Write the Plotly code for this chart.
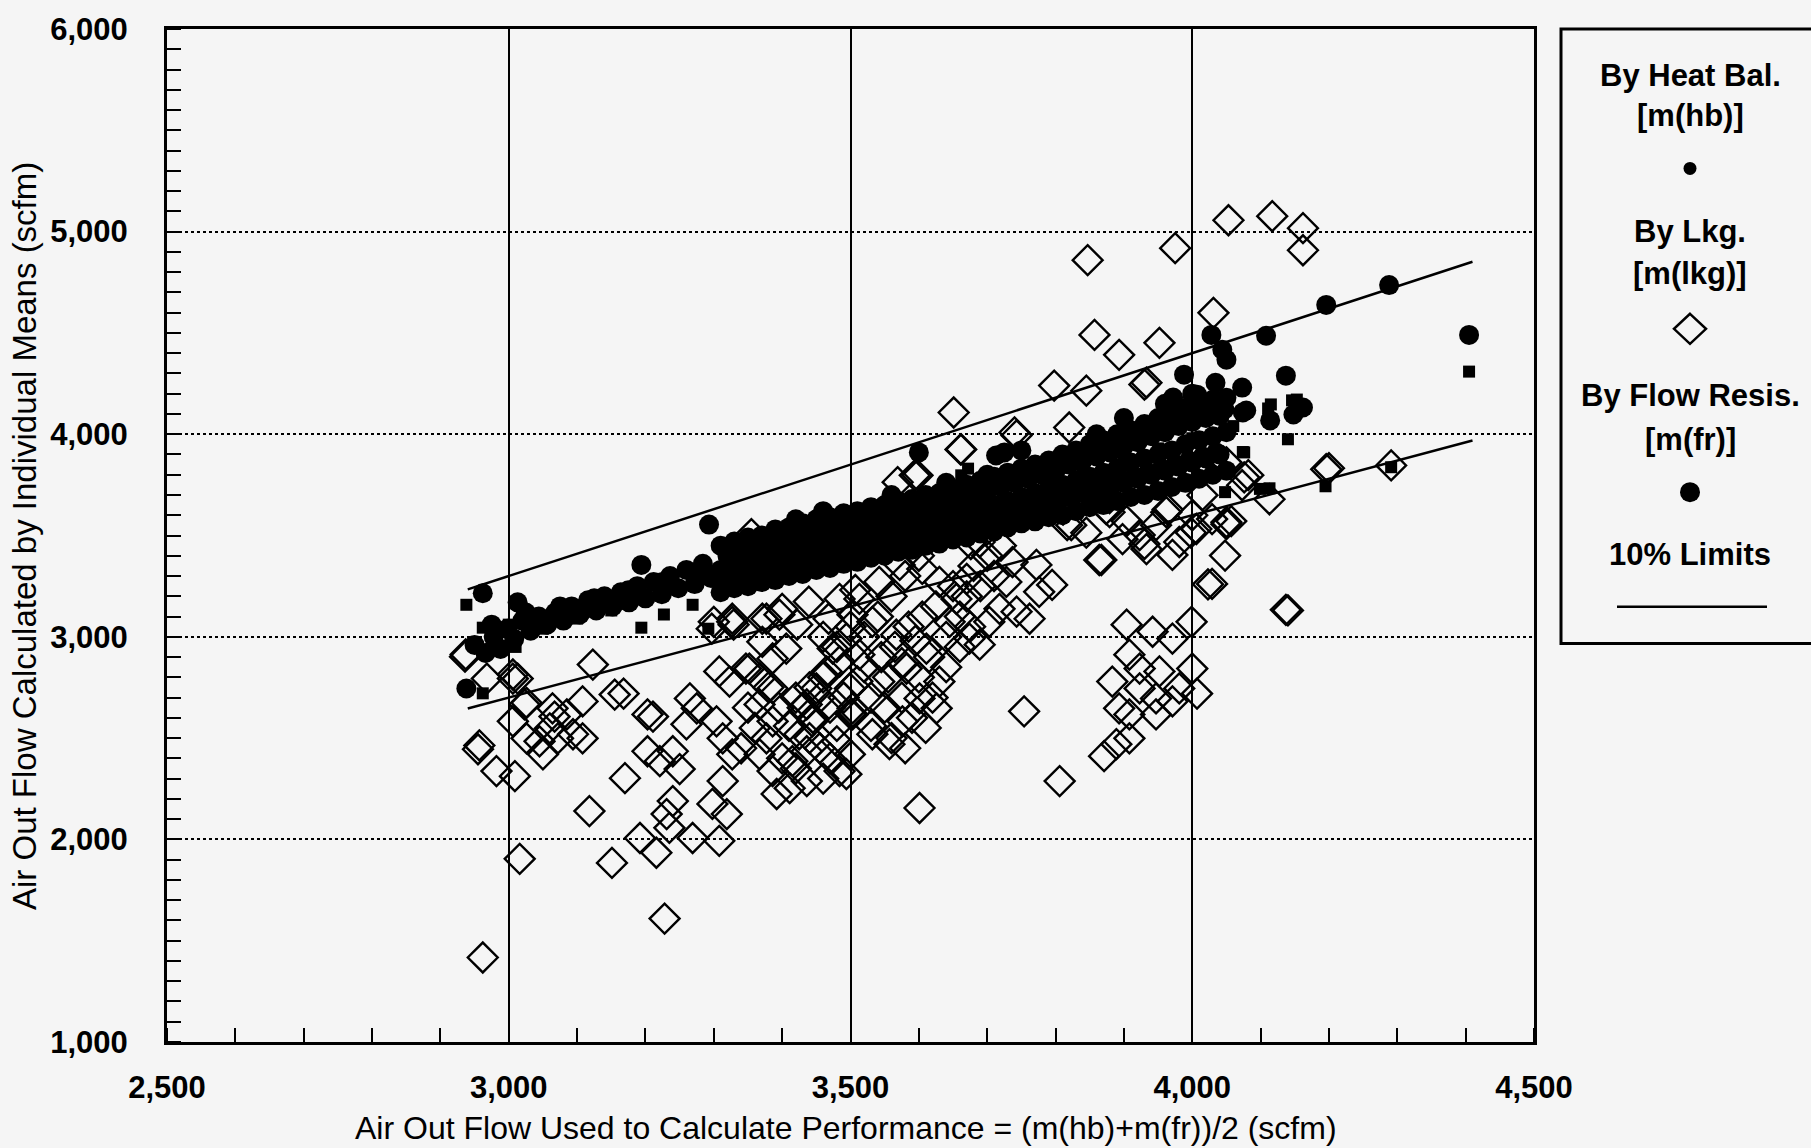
import plotly.graph_objects as go

# ---------------- data ----------------
# By Heat Balance  m(hb)  -> small squares
hb_x = [2938, 2962, 2982, 2962, 3194, 3227, 3269, 3292, 3662, 3672, 4076, 4140, 4115, 4153,
        4113, 4195, 4291, 4405, 4048, 3000, 3050, 3100, 3150, 3300, 3400, 3500, 3600, 3700,
        3800, 3900, 3950, 4000, 3620, 3840, 4060, 4111, 4146, 4074, 4099, 3010, 2975]
hb_y = [3158, 3045, 3026, 2721, 3045, 3110, 3158, 3040, 3797, 3830, 3910, 3975, 4147, 4171,
        3733, 3743, 3837, 4309, 3714, 3060, 3040, 3090, 3130, 3280, 3380, 3480, 3580, 3690,
        3780, 3880, 3930, 3980, 3590, 3820, 4040, 4127, 4167, 3912, 3730, 2950, 2990]

# By Leakage  m(lkg)  -> open diamonds
lkg_x = [2936, 2968, 3006, 3023, 3006, 3026, 3050, 2955, 2982, 3009, 3064, 3085, 3108, 3123,
         3094, 3108, 3072, 3060, 3045, 3155, 3203, 3170, 3118, 3016, 3151, 3228, 2962, 3203,
         3221, 3240, 3250, 3240, 3231, 3235, 3192, 3216, 3269, 3308, 3298, 3319, 3313, 3327,
         3313, 3304, 3275, 3260, 3265, 3308, 3323, 3352, 3327, 3297, 3371, 3386, 3406, 3367,
         3386, 3367, 3386, 3377, 3367, 3386, 3392, 3411, 3436, 3415, 3436, 3425, 3444, 3436,
         3450, 3465, 3484, 3474, 3494, 3484, 3503, 3484, 3480, 3499, 3503, 3396,
         3823, 3867, 4029, 3999, 3904, 3942, 3971, 3908, 3883, 3923, 3952, 4000, 4007, 3981,
         3947, 3923, 3893, 3908, 3947, 3971, 3908, 3889, 3871, 3806, 3754, 3601, 4050, 3971,
         3933, 3923, 3947, 4000, 4015, 4073, 3879,
         3795, 3776, 3762, 3743, 3772, 3737, 3718, 3689, 3674, 3630, 3626, 3557, 3532, 3494,
         3503, 3576, 3601, 3582, 3611, 3645, 3655, 3630, 3605, 3572, 3542, 3513, 3532, 3567,
         3513, 3542, 3499, 3689, 3703, 3670, 3728,
         3845, 3933, 3820, 4050, 4076, 4196, 4113, 4050, 3864, 4137, 3874, 3962, 3981, 3898,
         4006, 4029,
         3847, 3975, 4053, 4117, 4162, 4162, 3651, 3857, 3893, 3952, 4031, 3798, 3930, 3740,
         3661, 3594, 4291, 3817, 4140, 3662, 3598, 3569, 3743, 3355, 3507, 3468, 3422, 3371,
         3329, 3439, 3676, 3718, 3778, 3811, 3845, 3879, 3904, 3930, 3964, 3998, 4023, 4048,
         4082, 4057, 4200, 2937, 2957, 3013, 3026, 3067, 3168, 3211, 3300, 3327, 3377, 3400,
         3347, 3006,
         3420, 3430, 3445, 3455, 3440, 3460, 3470, 3480, 3490, 3500, 3510, 3520, 3530, 3545,
         3555, 3565, 3575, 3585, 3595, 3605, 3615, 3625, 3640, 3650, 3660, 3670, 3680, 3690,
         3700, 3710, 3720, 3440, 3455, 3470, 3460, 3420, 3400, 3410, 3395, 3380, 3360, 3350,
         3340, 3530, 3550, 3560, 3575, 3590, 3600, 3620, 3610, 3580, 3640, 3660, 3675, 3520,
         3540, 3500, 3480, 3460, 3560, 3580, 3600]
lkg_y = [2902, 2794, 2794, 2666, 2583, 2499, 2420, 2445, 2337, 2312, 2647, 2617, 2681, 2863,
         2519, 2499, 2499, 2548, 2484, 2715, 2617, 2302, 2140, 1904, 1884, 1609, 1417, 2435,
         2386, 2435, 2347, 2189, 2125, 2057, 2007, 1934, 2007, 1993, 2175, 2125, 2288, 2420,
         2499, 2583, 2647, 2568, 2696, 2829, 2779, 2843, 3074, 3040, 3089, 2893, 2942, 2794,
         2745, 2666, 2583, 2499, 2420, 2337, 2224, 2253, 2288, 2386, 2435, 2519, 2583, 2666,
         2745, 2829, 2878, 2942, 2991, 3187, 3109, 2337, 2484, 2420, 2647, 3109,
         3551, 3379, 3261, 3074, 3060, 3025, 2991, 2912, 2779, 2843, 2829, 2843, 2720, 2745,
         2696, 2745, 2647, 2617, 2617, 2681, 2499, 2470, 2411, 2288, 2632, 2155, 3556, 3404,
         3433, 3502, 3551, 3600, 3699, 3748, 3615,
         3256, 3222, 3089, 3124, 3355, 3369, 3138, 2961, 2991, 2779, 2647, 2470, 2519, 2322,
         2617, 2583, 2696, 2843, 2942, 3074, 3187, 3271, 3335, 3355, 3271, 3187, 3074, 3010,
         2912, 2779, 2745, 3468, 3074, 3286, 3271,
         4215, 4254, 4033, 3861, 3787, 3827, 3679, 3566, 3379, 3133, 3630, 3615, 3468, 3482,
         3532, 3581,
         4859, 4918, 5056, 5076, 5017, 4908, 4107, 4490, 4392, 4451, 4599, 4240, 4245, 4009,
         3925, 3797, 3846, 3551, 3130, 3925, 3797, 3763, 3994, 3507, 3231, 3089, 3060, 2975,
         3060, 3174, 3458, 3628, 3713, 3628, 3514, 3684, 3571, 3458, 3628, 3514, 3259, 3401,
         3798, 3571, 3832, 2913, 2464, 2794, 2674, 2606, 2720, 2606, 3074, 3089, 3089, 3138,
         2843, 2814,
         2700, 2650, 2600, 2700, 2750, 2800, 2650, 2560, 2700, 2620, 2780, 2850, 2700, 2900,
         2800, 2950, 2870, 3050, 2980, 3100, 2900, 3150, 3000, 3250, 3100, 3200, 3350, 3250,
         3400, 3300, 3450, 2500, 2450, 2400, 2300, 2350, 2400, 2560, 2650, 2750, 2550, 2650,
         2450, 2560, 2650, 2500, 2700, 2600, 2800, 2700, 2550, 2450, 2850, 2950, 3050, 3000,
         3100, 3050, 2950, 3000, 3200, 3300, 3400]

# By Flow Resistance  m(fr)  -> filled circles
fr_x = [2938, 2950, 2962, 2966, 2978, 2988, 2998, 3008, 3013, 3020, 3032, 3044, 3056, 3068,
        3080, 3092, 3104, 3116, 3128, 3140, 3152, 3164, 3176, 3188, 3194, 3200, 3212, 3224,
        3236, 3248, 3260, 3272, 3284, 3293, 3296,
        2975, 3025, 3075, 3125, 3175, 3225, 3275,
        3310, 3310, 3310, 3330, 3330, 3330, 3350, 3350, 3350, 3370, 3370, 3370,
        3390, 3390, 3390, 3410, 3410, 3410, 3430, 3430, 3430, 3450, 3450, 3450,
        3470, 3470, 3470, 3490, 3490, 3490, 3510, 3510, 3510, 3530, 3530, 3530,
        3550, 3550, 3550, 3570, 3570, 3570, 3590, 3590, 3590, 3610, 3610, 3610,
        3630, 3630, 3630, 3650, 3650, 3650, 3670, 3670, 3670, 3690, 3690, 3690,
        3710, 3710, 3710, 3730, 3730, 3730, 3750, 3750, 3750, 3770, 3770, 3770,
        3790, 3790, 3790, 3810, 3810, 3810, 3830, 3830, 3830, 3850, 3850, 3850,
        3870, 3870, 3870, 3890, 3890, 3890, 3910, 3910, 3910, 3930, 3930, 3930,
        3950, 3950, 3950, 3970, 3970, 3970, 3990, 3990, 3990, 4010, 4010, 4010,
        4030, 4030, 4030, 4050, 4050, 4050,
        3320, 3320, 3340, 3340, 3360, 3360, 3380, 3380, 3400, 3400, 3420, 3420,
        3440, 3440, 3460, 3460, 3480, 3480, 3500, 3500, 3520, 3520, 3540, 3540,
        3560, 3560, 3580, 3580, 3600, 3600, 3620, 3620, 3640, 3640, 3660, 3660,
        3680, 3680, 3700, 3700, 3720, 3720, 3740, 3740, 3760, 3760, 3780, 3780,
        3800, 3800, 3820, 3820, 3840, 3840, 3860, 3860, 3880, 3880, 3900, 3900,
        3920, 3920, 3940, 3940, 3960, 3960, 3980, 3980, 4000, 4000, 4020, 4020,
        4040, 4040,
        3775, 3775, 3795, 3795, 3815, 3815, 3835, 3835, 3855, 3855, 3875, 3875,
        3895, 3895, 3915, 3915, 3935, 3935, 3955, 3955, 3975, 3975, 3995, 3995,
        4015, 4015, 4035, 4035,
        3420, 3460, 3560, 3640, 3700, 3860, 3900, 3960, 4000,
        3600, 3725, 3750, 3988, 4028, 4044, 4050, 4034, 4073, 4108, 4137, 4196, 4288, 4405,
        4114, 4148, 4162, 4007, 3972, 4047, 4074, 4079, 3713]
fr_y = [2745, 2960, 3215, 2920, 3000, 2940, 3040, 2990, 3170, 3080, 3030, 3100, 3060, 3120,
        3080, 3150, 3110, 3180, 3130, 3200, 3150, 3220, 3170, 3250, 3355, 3190, 3270, 3210,
        3300, 3240, 3330, 3260, 3360, 3554, 3290,
        3060, 3120, 3150, 3190, 3230, 3270, 3310,
        3450, 3330, 3220, 3470, 3350, 3240, 3490, 3370, 3250, 3500, 3390, 3270,
        3530, 3400, 3280, 3540, 3420, 3300, 3560, 3440, 3310, 3580, 3450, 3330,
        3590, 3470, 3340, 3610, 3480, 3360, 3620, 3500, 3370, 3640, 3510, 3390,
        3650, 3530, 3400, 3670, 3540, 3420, 3680, 3560, 3430, 3700, 3570, 3450,
        3710, 3590, 3460, 3730, 3600, 3480, 3750, 3620, 3490, 3770, 3640, 3510,
        3790, 3650, 3520, 3810, 3670, 3540, 3830, 3690, 3560, 3850, 3710, 3570,
        3870, 3730, 3590, 3900, 3750, 3600, 3920, 3770, 3620, 3950, 3790, 3640,
        3970, 3810, 3650, 4000, 3830, 3670, 4020, 3860, 3690, 4050, 3880, 3700,
        4080, 3900, 3720, 4100, 3920, 3740, 4130, 3950, 3760, 4150, 3970, 3780,
        4170, 3990, 3800, 4180, 4010, 3820,
        3400, 3280, 3420, 3300, 3440, 3310, 3450, 3330, 3470, 3350, 3500, 3360,
        3510, 3380, 3520, 3400, 3550, 3410, 3560, 3430, 3570, 3440, 3590, 3460,
        3610, 3470, 3620, 3490, 3640, 3500, 3650, 3520, 3670, 3540, 3680, 3550,
        3700, 3570, 3720, 3580, 3740, 3600, 3760, 3610, 3780, 3630, 3800, 3650,
        3820, 3670, 3850, 3690, 3870, 3710, 3890, 3720, 3910, 3740, 3940, 3760,
        3960, 3780, 3990, 3800, 4010, 3820, 4040, 3840, 4060, 3860, 4080, 3880,
        4090, 3900,
        3820, 3650, 3840, 3670, 3870, 3690, 3890, 3710, 3910, 3730, 3940, 3750,
        3960, 3770, 3990, 3790, 4010, 3810, 4040, 3830, 4060, 3850, 4090, 3870,
        4110, 3890, 4130, 3910,
        3580, 3620, 3700, 3760, 3800, 4000, 4080, 4150, 4200,
        3910, 3910, 3920, 4294, 4490, 4417, 4368, 4254, 4230, 4486, 4289, 4638, 4736, 4490,
        4068, 4097, 4132, 4195, 4181, 4122, 4107, 4117, 3895]

# 10% limit lines
lim_x = [2940, 4410]
lim_hi = [3234, 4851]
lim_lo = [2646, 3969]

x_ticks = [2500, 3000, 3500, 4000, 4500]
x_tick_text = ["2,500", "3,000", "3,500", "4,000", "4,500"]
y_ticks = [1000, 2000, 3000, 4000, 5000, 6000]
y_tick_text = ["1,000", "2,000", "3,000", "4,000", "5,000", "6,000"]

x_title = "Air Out Flow Used to Calculate Performance = (m(hb)+m(fr))/2 (scfm)"
y_title = "Air Out Flow Calculated by Individual Means (scfm)"
legend_items = ["By Heat Bal.", "[m(hb)]", "By Lkg.", "[m(lkg)]",
                "By Flow Resis.", "[m(fr)]", "10% Limits"]

# ---------------- figure ----------------
BG = "#f5f5f5"
FONT = "Liberation Sans, Arial, sans-serif"

fig = go.Figure()
fig.add_trace(go.Scatter(x=hb_x, y=hb_y, mode="markers",
                         marker=dict(symbol="square", size=12, color="black", line_width=0),
                         hoverinfo="skip"))
fig.add_trace(go.Scatter(x=lkg_x, y=lkg_y, mode="markers",
                         marker=dict(symbol="diamond-open", size=23, color="black",
                                     line=dict(width=2.4, color="black")),
                         hoverinfo="skip"))
fig.add_trace(go.Scatter(x=fr_x, y=fr_y, mode="markers",
                         marker=dict(symbol="circle", size=20, color="black", line_width=0),
                         hoverinfo="skip"))
fig.add_trace(go.Scatter(x=lim_x, y=lim_hi, mode="lines",
                         line=dict(color="black", width=2.5), hoverinfo="skip"))
fig.add_trace(go.Scatter(x=lim_x, y=lim_lo, mode="lines",
                         line=dict(color="black", width=2.5), hoverinfo="skip"))

W, H = 1811, 1148
L, R, T, B = 167, 1811 - 1534, 25, 1148 - 1042
PW, PH = W - L - R, H - T - B


def px(xp):
    return (xp - L) / PW


def py(yp):
    return 1 - (yp - T) / PH


tickfont = dict(family=FONT, size=31, color="black", weight="bold")

fig.update_layout(
    width=W, height=H,
    margin=dict(l=L, r=R, t=T, b=B),
    paper_bgcolor=BG, plot_bgcolor=BG,
    showlegend=False,
    xaxis=dict(range=[2500, 4500], tickvals=x_ticks, ticktext=x_tick_text,
               tickfont=tickfont, ticks="", ticklabelstandoff=16,
               showgrid=True, gridcolor="black", gridwidth=2,
               showline=True, linecolor="black", linewidth=3, mirror=True,
               zeroline=False,
               minor=dict(dtick=100, ticks="inside", ticklen=14, tickwidth=2,
                          tickcolor="black", showgrid=False)),
    yaxis=dict(range=[1000, 6000], tickvals=y_ticks, ticktext=y_tick_text,
               tickfont=tickfont, ticks="", ticklabelstandoff=30,
               showgrid=True, gridcolor="black", gridwidth=2, griddash="dot",
               showline=True, linecolor="black", linewidth=3, mirror=True,
               zeroline=False,
               minor=dict(dtick=100, ticks="inside", ticklen=14, tickwidth=2,
                          tickcolor="black", showgrid=False)),
)

annotations = [
    dict(text=x_title, xref="paper", yref="paper", x=px(846), y=py(1128),
         xanchor="center", yanchor="middle", showarrow=False,
         font=dict(family=FONT, size=32, color="black")),
    dict(text=y_title, xref="paper", yref="paper", x=px(25), y=py(534),
         xanchor="center", yanchor="middle", showarrow=False, textangle=-90,
         font=dict(family=FONT, size=33, color="black")),
]
leg_cx = px(1690)
leg_y = [72, 112, 228, 270, 393, 437, 553]
for txt, yy in zip(legend_items, leg_y):
    annotations.append(dict(text=txt, xref="paper", yref="paper", x=leg_cx, y=py(yy),
                            xanchor="center", yanchor="middle", showarrow=False,
                            font=dict(family=FONT, size=31, color="black", weight="bold")))
fig.update_layout(annotations=annotations)

shapes = [
    # legend frame
    dict(type="rect", xref="paper", yref="paper", x0=px(1561), x1=px(1840),
         y0=py(642), y1=py(25), line=dict(color="black", width=3), fillcolor=BG,
         layer="below"),
    # small dot (heat bal.)
    dict(type="circle", xref="paper", yref="paper", xsizemode="pixel", ysizemode="pixel",
         xanchor=leg_cx, yanchor=py(165), x0=-6.5, x1=6.5, y0=-6.5, y1=6.5,
         fillcolor="black", line=dict(width=0)),
    # diamond (leakage)
    dict(type="path", xref="paper", yref="paper", xsizemode="pixel", ysizemode="pixel",
         xanchor=leg_cx, yanchor=py(326), path="M 0 15 L 16 0 L 0 -15 L -16 0 Z",
         line=dict(color="black", width=2.5)),
    # big dot (flow resis.)
    dict(type="circle", xref="paper", yref="paper", xsizemode="pixel", ysizemode="pixel",
         xanchor=leg_cx, yanchor=py(490), x0=-10, x1=10, y0=-10, y1=10,
         fillcolor="black", line=dict(width=0)),
    # limits line
    dict(type="line", xref="paper", yref="paper", x0=px(1617), x1=px(1767),
         y0=py(605), y1=py(605), line=dict(color="black", width=2.5)),
]
fig.update_layout(shapes=shapes)

fig.write_html("out.html")
